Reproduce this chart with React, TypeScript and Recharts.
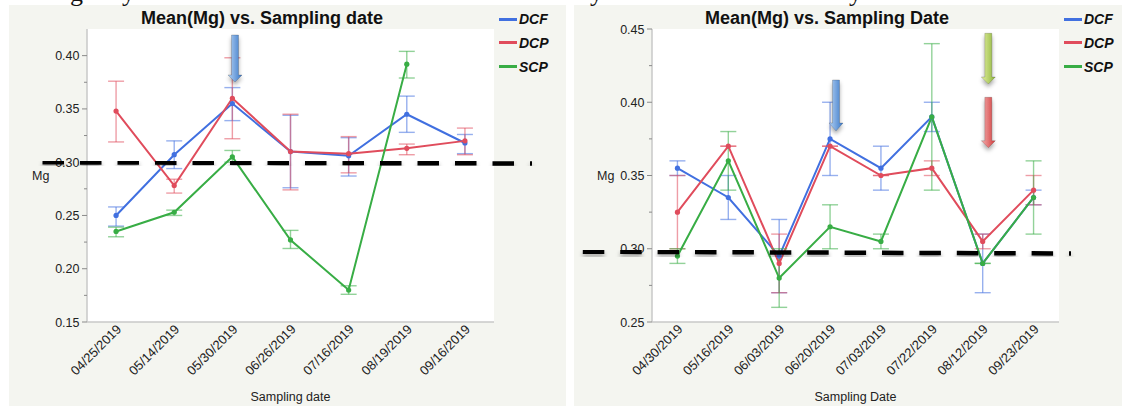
import React from 'react'
import { LineChart, Line, XAxis, YAxis, ErrorBar, CartesianGrid } from 'recharts'

// left chart (Mean(Mg) vs. Sampling date)
const leftDates = ['04/25/2019', '05/14/2019', '05/30/2019', '06/26/2019', '07/16/2019', '08/19/2019', '09/16/2019']
const leftDCF = [0.25, 0.307, 0.355, 0.31, 0.306, 0.345, 0.318]
const leftDCFLow = [0.24, 0.294, 0.339, 0.276, 0.287, 0.328, 0.308]
const leftDCFHigh = [0.258, 0.32, 0.37, 0.344, 0.323, 0.362, 0.326]
const leftDCP = [0.348, 0.278, 0.36, 0.31, 0.308, 0.313, 0.32]
const leftDCPLow = [0.319, 0.271, 0.322, 0.274, 0.29, 0.307, 0.307]
const leftDCPHigh = [0.376, 0.284, 0.398, 0.345, 0.324, 0.317, 0.332]
const leftSCP = [0.235, 0.253, 0.305, 0.227, 0.18, 0.392, null]
const leftSCPLow = [0.23, 0.25, 0.3, 0.219, 0.176, 0.379, null]
const leftSCPHigh = [0.239, 0.255, 0.311, 0.236, 0.184, 0.404, null]
const leftTicks = [0.15, 0.175, 0.2, 0.225, 0.25, 0.275, 0.3, 0.325, 0.35, 0.375, 0.4]

// right chart (Mean(Mg) vs. Sampling Date)
const rightDates = ['04/30/2019', '05/16/2019', '06/03/2019', '06/20/2019', '07/03/2019', '07/22/2019', '08/12/2019', '09/23/2019']
const rightDCF = [0.355, 0.335, 0.295, 0.375, 0.355, 0.39, 0.29, 0.335]
const rightDCFLow = [0.35, 0.32, 0.27, 0.35, 0.34, 0.38, 0.27, 0.33]
const rightDCFHigh = [0.36, 0.35, 0.32, 0.4, 0.37, 0.4, 0.31, 0.34]
const rightDCP = [0.325, 0.37, 0.29, 0.37, 0.35, 0.355, 0.305, 0.34]
const rightDCPLow = [0.3, 0.37, 0.27, 0.37, 0.35, 0.35, 0.3, 0.33]
const rightDCPHigh = [0.35, 0.37, 0.31, 0.37, 0.35, 0.36, 0.31, 0.35]
const rightSCP = [0.295, 0.36, 0.28, 0.315, 0.305, 0.39, 0.29, 0.335]
const rightSCPLow = [0.29, 0.34, 0.26, 0.3, 0.3, 0.34, 0.29, 0.31]
const rightSCPHigh = [0.3, 0.38, 0.3, 0.33, 0.31, 0.44, 0.29, 0.36]
const rightTicks = [0.25, 0.275, 0.3, 0.325, 0.35, 0.375, 0.4, 0.425, 0.45]

const BLUE = '#4170e0'
const RED = '#e04c5c'
const GREEN = '#38ad45'
const FONT = '"Liberation Sans", Arial, Helvetica, sans-serif'
const BG = '#f4f5f0'
const BORDER = '#c9c9c9'

const err = (m: number | null, lo: number | null, hi: number | null) =>
  m == null || lo == null || hi == null ? null : [m - lo, hi - m]

const buildRows = (dates: string[], dcf, dcfL, dcfH, dcp, dcpL, dcpH, scp, scpL, scpH) =>
  dates.map((d, i) => ({
    date: d,
    dcf: dcf[i], dcfErr: err(dcf[i], dcfL[i], dcfH[i]),
    dcp: dcp[i], dcpErr: err(dcp[i], dcpL[i], dcpH[i]),
    scp: scp[i], scpErr: err(scp[i], scpL[i], scpH[i]),
  }))

const leftRows = buildRows(leftDates, leftDCF, leftDCFLow, leftDCFHigh, leftDCP, leftDCPLow, leftDCPHigh, leftSCP, leftSCPLow, leftSCPHigh)
const rightRows = buildRows(rightDates, rightDCF, rightDCFLow, rightDCFHigh, rightDCP, rightDCPLow, rightDCPHigh, rightSCP, rightSCPLow, rightSCPHigh)

const isMajor = (v: number) => Math.abs(v * 20 - Math.round(v * 20)) < 1e-6

const YTick = (props: any) => {
  const { x, y, payload } = props
  const major = isMajor(payload.value)
  return (
    <g>
      <line x1={x - (major ? 5 : 3)} x2={x} y1={y} y2={y} stroke="#8a8a8a" />
      {major && (
        <text x={x - 7.5} y={y} dy={4.5} textAnchor="end" fontSize={12.5} fill="#222" fontFamily={FONT}>
          {payload.value.toFixed(2)}
        </text>
      )}
    </g>
  )
}

const XTick = (props: any) => {
  const { x, y, payload } = props
  const ax = x + 6
  const ay = y + 8
  return (
    <text x={ax} y={ay} transform={`rotate(-45, ${ax}, ${ay})`} textAnchor="end" fontSize={13} fill="#222" fontFamily={FONT}>
      {payload.value}
    </text>
  )
}

const series = [
  { key: 'dcf', name: 'DCF', color: BLUE, errColor: 'rgba(65,112,224,0.55)' },
  { key: 'dcp', name: 'DCP', color: RED, errColor: 'rgba(224,76,92,0.55)' },
  { key: 'scp', name: 'SCP', color: GREEN, errColor: 'rgba(56,173,69,0.55)' },
]

const Panel = ({ left, width, rows, ticks, domain, title, xLabel }: any) => {
  const plotW = 407
  const band = plotW / rows.length
  return (
    <div style={{ position: 'absolute', left, top: 5, width, height: 401, background: BG }}>
      <LineChart width={width} height={401} data={rows} margin={{ top: 24, left: 18, right: width - 485, bottom: 14 }}>
        <CartesianGrid horizontal={false} vertical={false} fill="#ffffff" />
        <XAxis
          dataKey="date"
          interval={0}
          padding={{ left: band / 2, right: band / 2 }}
          tick={<XTick />}
          tickLine={false}
          tickSize={0}
          tickMargin={0}
          axisLine={{ stroke: BORDER, strokeWidth: 1.5 }}
          height={70}
          label={{ value: xLabel, position: 'bottom', offset: 0, fill: '#222', fontSize: 12.5, fontFamily: FONT }}
        />
        <XAxis xAxisId="top" dataKey="date" orientation="top" height={0} tick={false} tickLine={false} axisLine={{ stroke: BORDER, strokeWidth: 1.5 }} />
        <YAxis
          type="number"
          domain={domain}
          ticks={ticks}
          allowDataOverflow
          width={60}
          tick={<YTick />}
          tickLine={false}
          tickSize={0}
          tickMargin={0}
          axisLine={{ stroke: BORDER, strokeWidth: 1.5 }}
          label={{ value: 'Mg', position: 'insideLeft', offset: 5, fill: '#222', fontSize: 12.5, fontFamily: FONT }}
        />
        <YAxis yAxisId="r" orientation="right" width={0} tick={false} tickLine={false} axisLine={{ stroke: BORDER, strokeWidth: 1.5 }} />
        {series.map((s) => (
          <Line
            key={s.key}
            dataKey={s.key}
            stroke={s.color}
            strokeWidth={2}
            dot={{ r: 2.6, fill: s.color, stroke: s.color, strokeWidth: 0 }}
            isAnimationActive={false}
          >
            <ErrorBar dataKey={`${s.key}Err`} direction="y" width={8} stroke={s.errColor} strokeWidth={1.4} />
          </Line>
        ))}
      </LineChart>
      <div style={{ position: 'absolute', left: 0, top: 3, width: 506, height: 20, lineHeight: '20px', textAlign: 'center', fontFamily: FONT, fontWeight: 'bold', fontSize: 18, color: '#111' }}>
        {title}
      </div>
      {series.map((s, i) => (
        <div key={s.key} style={{ position: 'absolute', left: 490, top: [14.3, 37.7, 61.7][i] - 9, height: 18, display: 'flex', alignItems: 'center' }}>
          <div style={{ width: 18, height: 3, background: s.color }} />
          <span style={{ marginLeft: 2, fontFamily: FONT, fontWeight: 'bold', fontStyle: 'italic', fontSize: 14, color: '#111' }}>{s.name}</span>
        </div>
      ))}
    </div>
  )
}

const Arrow = ({ cx, top, headStart, tip, id }: any) => (
  <path
    d={`M${cx - 3.5},${top} L${cx + 3.5},${top} L${cx + 3.5},${headStart} L${cx + 7},${headStart} L${cx},${tip} L${cx - 7},${headStart} L${cx - 3.5},${headStart} Z`}
    fill={`url(#${id})`}
    stroke="rgba(0,0,0,0.25)"
    strokeWidth={0.7}
    filter="url(#shadow)"
  />
)

const App = () => {
  return (
    <div style={{ position: 'absolute', left: 0, top: 0, width: 1122, height: 406, background: '#fff', overflow: 'hidden' }}>
      <Panel left={9} width={557} rows={leftRows} ticks={leftTicks} domain={[0.15, 0.425]} title="Mean(Mg) vs. Sampling date" xLabel="Sampling date" />
      <Panel left={574} width={548} rows={rightRows} ticks={rightTicks} domain={[0.25, 0.45]} title="Mean(Mg) vs. Sampling Date" xLabel="Sampling Date" />
      <svg width={1122} height={406} style={{ position: 'absolute', left: 0, top: 0, pointerEvents: 'none' }}>
        <defs>
          <filter id="shadow" x="-20%" y="-50%" width="140%" height="300%">
            <feDropShadow dx="0" dy="3" stdDeviation="2" floodColor="#000" floodOpacity="0.35" />
          </filter>
          <linearGradient id="gBlue" x1="0" x2="1" y1="0" y2="0">
            <stop offset="0" stopColor="#b4d2f4" />
            <stop offset="1" stopColor="#3a78c8" />
          </linearGradient>
          <linearGradient id="gGreen" x1="0" x2="1" y1="0" y2="0">
            <stop offset="0" stopColor="#e4f0a0" />
            <stop offset="1" stopColor="#8cb43a" />
          </linearGradient>
          <linearGradient id="gRed" x1="0" x2="1" y1="0" y2="0">
            <stop offset="0" stopColor="#f4b0b0" />
            <stop offset="1" stopColor="#d23a3a" />
          </linearGradient>
        </defs>
        <g fontFamily='"Liberation Serif", "Times New Roman", serif' fontSize={26} fill="#111">
          <text x={70} y={0.5}>g</text>
          <text x={122} y={0.5}>y</text>
          <text x={590} y={0.5}>y</text>
          <text x={849} y={0.5}>y</text>
        </g>
        <line x1={42.5} y1={162.3} x2={532} y2={163.5} stroke="#000" strokeWidth={4.5} strokeDasharray="21.5 16" filter="url(#shadow)" />
        <line x1={582.8} y1={251.7} x2={1071} y2={253.5} stroke="#000" strokeWidth={4.5} strokeDasharray="21.5 15.9" filter="url(#shadow)" />
        <Arrow cx={235} top={35} headStart={75} tip={82} id="gBlue" />
        <Arrow cx={836} top={80} headStart={123} tip={131} id="gBlue" />
        <Arrow cx={988.3} top={33.3} headStart={77} tip={84} id="gGreen" />
        <Arrow cx={988.3} top={97.3} headStart={140.7} tip={147.7} id="gRed" />
      </svg>
    </div>
  )
}

export default App
